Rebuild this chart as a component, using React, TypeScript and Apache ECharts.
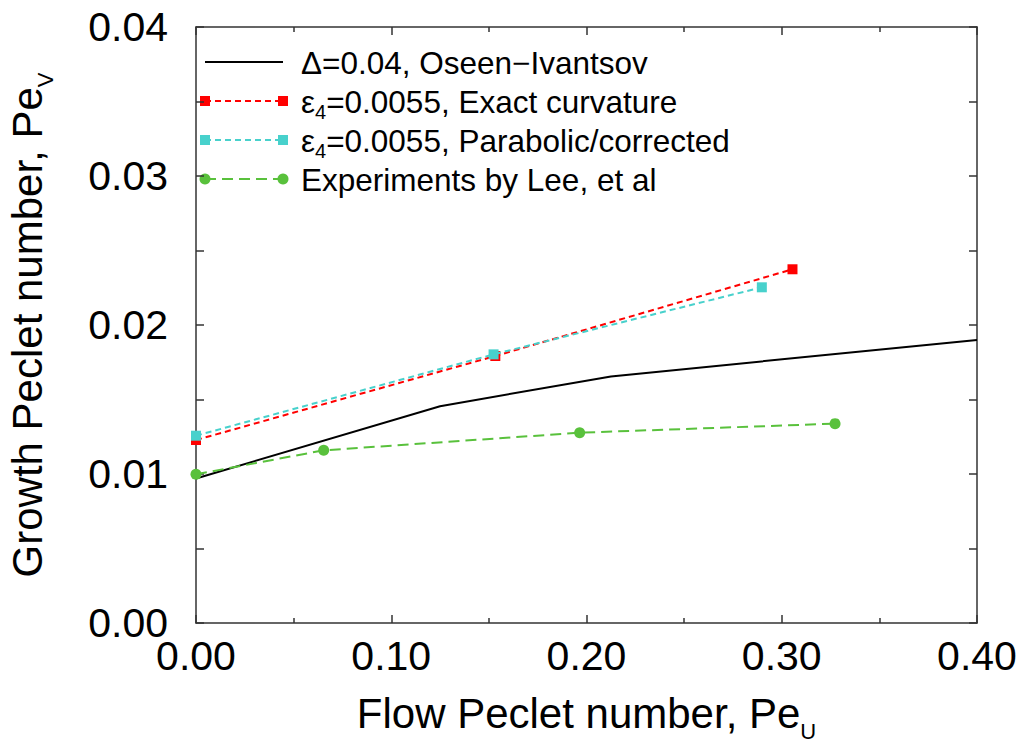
import React, { useEffect, useRef } from "react";
import * as echarts from "echarts";

// ---- Data ----
const oseenX = [0, 0.125, 0.2125, 0.4];
const oseenY = [0.0097, 0.01455, 0.01655, 0.019];
const exactX = [0, 0.1533, 0.3055];
const exactY = [0.01228, 0.01792, 0.02374];
const paraX = [0, 0.1524, 0.2898];
const paraY = [0.01257, 0.01803, 0.02253];
const expX = [0, 0.0654, 0.1965, 0.3273];
const expY = [0.00998, 0.01159, 0.01277, 0.01338];

const seriesNames = [
  "Δ=0.04, Oseen−Ivantsov",
  "ε4=0.0055, Exact curvature",
  "ε4=0.0055, Parabolic/corrected",
  "Experiments by Lee, et al",
];
const legendRich = [
  "{t|Δ=0.04, Oseen−Ivantsov}",
  "{t|ε}{s|4}{t|=0.0055, Exact curvature}",
  "{t|ε}{s|4}{t|=0.0055, Parabolic/corrected}",
  "{t|Experiments by Lee, et al}",
];
const xTitle = "{t|Flow Peclet number, Pe}{s|U}";
const yTitle = "{t|Growth Peclet number, Pe}{s|V}";

const FONT = "Liberation Sans, Arial, sans-serif";
const colors = ["#000000", "#ff0000", "#48d1cc", "#59c13c"];

const zip = (xs: number[], ys: number[]) => xs.map((x, i) => [x, ys[i]]);

export default function App() {
  const ref = useRef<HTMLDivElement>(null);
  useEffect(() => {
    document.body.style.margin = "0";
    if (!ref.current) return;
    const chart = echarts.init(ref.current, undefined, { renderer: "svg" });
    const axisLineStyle = { color: "#333", width: 1.5 };
    const titleRich = {
      t: { fontSize: 42, fontFamily: FONT, color: "#000", verticalAlign: "top", lineHeight: 50 },
      s: { fontSize: 22, fontFamily: FONT, color: "#000", verticalAlign: "bottom", lineHeight: 50 },
    };
    const legendTextRich = {
      t: { fontSize: 31.5, fontFamily: FONT, color: "#000", verticalAlign: "top", lineHeight: 36 },
      s: { fontSize: 20, fontFamily: FONT, color: "#000", verticalAlign: "bottom", lineHeight: 36 },
    };
    const legendY = [62, 101, 140, 179];
    const x1 = 205;
    const x2 = 283;
    const legendChildren: any[] = [];
    legendY.forEach((y, i) => {
      const c = colors[i];
      const dash = i === 0 ? null : i === 3 ? [11, 6] : [6, 4];
      legendChildren.push({
        type: "line",
        shape: { x1, y1: y, x2, y2: y },
        style: { stroke: c, lineWidth: 2, lineDash: dash },
      });
      if (i === 1 || i === 2) {
        [x1, x2].forEach((x) =>
          legendChildren.push({
            type: "rect",
            shape: { x: x - 5, y: y - 5, width: 10, height: 10 },
            style: { fill: c },
          })
        );
      }
      if (i === 3) {
        [x1, x2].forEach((x) =>
          legendChildren.push({
            type: "circle",
            shape: { cx: x, cy: y, r: 5.5 },
            style: { fill: c },
          })
        );
      }
      legendChildren.push({
        type: "text",
        x: 301,
        y: y + 2.5,
        style: {
          text: legendRich[i],
          rich: legendTextRich,
          verticalAlign: "middle",
          align: "left",
        },
      });
    });

    chart.setOption({
      animation: false,
      backgroundColor: "#fff",
      grid: {
        left: 196,
        right: 46,
        top: 27,
        bottom: 121,
        containLabel: false,
        outerBoundsMode: "none",
      },
      xAxis: [
        {
          type: "value",
          min: 0,
          max: 0.4,
          interval: 0.1,
          position: "bottom",
          axisLine: { onZero: false, lineStyle: axisLineStyle },
          axisTick: { inside: true, length: 8, lineStyle: axisLineStyle },
          minorTick: { show: true, splitNumber: 2, length: 5, lineStyle: axisLineStyle },
          splitLine: { show: false },
          axisLabel: {
            fontSize: 41,
            fontFamily: FONT,
            color: "#000",
            margin: 12,
            showMinLabel: true,
            showMaxLabel: true,
            formatter: (v: number) => v.toFixed(2),
          },
          name: xTitle,
          nameLocation: "middle",
          nameGap: 69,
          nameTextStyle: { rich: titleRich },
        },
        {
          type: "value",
          min: 0,
          max: 0.4,
          interval: 0.1,
          position: "top",
          axisLine: { onZero: false, lineStyle: axisLineStyle },
          axisTick: { inside: true, length: 8, lineStyle: axisLineStyle },
          minorTick: { show: true, splitNumber: 2, length: 5, lineStyle: axisLineStyle },
          splitLine: { show: false },
          axisLabel: { show: false },
        },
      ],
      yAxis: [
        {
          type: "value",
          min: 0,
          max: 0.04,
          interval: 0.01,
          position: "left",
          axisLine: { onZero: false, lineStyle: axisLineStyle },
          axisTick: { inside: true, length: 8, lineStyle: axisLineStyle },
          minorTick: { show: true, splitNumber: 2, length: 8, lineStyle: axisLineStyle },
          splitLine: { show: false },
          axisLabel: {
            fontSize: 41,
            fontFamily: FONT,
            color: "#000",
            margin: 28,
            showMinLabel: true,
            showMaxLabel: true,
            formatter: (v: number) => v.toFixed(2),
          },
          name: yTitle,
          nameLocation: "middle",
          nameGap: 140,
          nameTextStyle: { rich: titleRich },
        },
        {
          type: "value",
          min: 0,
          max: 0.04,
          interval: 0.01,
          position: "right",
          axisLine: { onZero: false, lineStyle: axisLineStyle },
          axisTick: { inside: true, length: 8, lineStyle: axisLineStyle },
          minorTick: { show: true, splitNumber: 2, length: 8, lineStyle: axisLineStyle },
          splitLine: { show: false },
          axisLabel: { show: false },
        },
      ],
      series: [
        {
          name: seriesNames[0],
          type: "line",
          data: zip(oseenX, oseenY),
          showSymbol: false,
          symbol: "none",
          lineStyle: { color: colors[0], width: 2 },
          z: 2,
        },
        {
          name: seriesNames[1],
          type: "line",
          data: zip(exactX, exactY),
          symbol: "rect",
          symbolSize: 10,
          itemStyle: { color: colors[1] },
          lineStyle: { color: colors[1], width: 2, type: [6, 4] },
          z: 3,
        },
        {
          name: seriesNames[2],
          type: "line",
          data: zip(paraX, paraY),
          symbol: "rect",
          symbolSize: 10,
          itemStyle: { color: colors[2] },
          lineStyle: { color: colors[2], width: 2, type: [6, 4] },
          z: 4,
        },
        {
          name: seriesNames[3],
          type: "line",
          data: zip(expX, expY),
          symbol: "circle",
          symbolSize: 11,
          itemStyle: { color: colors[3] },
          lineStyle: { color: colors[3], width: 2, type: [11, 6] },
          z: 5,
        },
      ],
      graphic: [{ type: "group", children: legendChildren }],
    });
    return () => chart.dispose();
  }, []);
  return <div ref={ref} style={{ width: 1023, height: 744 }} />;
}
